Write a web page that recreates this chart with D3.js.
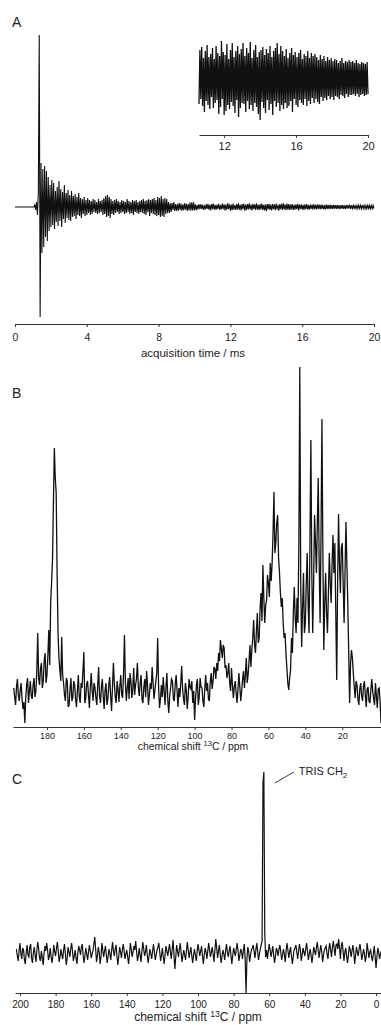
<!DOCTYPE html>
<html>
<head>
<meta charset="utf-8">
<script src="https://cdn.jsdelivr.net/npm/d3@7"></script>
<style>
  body { margin: 0; background: #fff; }
  svg { display: block; font-family: "Liberation Sans", Arial, sans-serif; }
</style>
</head>
<body>
<svg id="fig" width="381" height="1025"></svg>
<script>
// ---- data ----
// FID, sampled every 0.05 ms from 0 ms (signal in arbitrary units)
const fidStep = 0.05;
const fidValues = [
  0,0,0,0,0,0,0,0,0,0,0,0,0,0,0,0,0,0,0,0,0,0,
  2,-3,5,-8,14,172,-110,44,-46,38,-40,41,-30,36,-34,30,-24,22,-20,
  27,-18,24,-22,16,-15,20,-19,26,-14,18,-20,15,-12,22,-16,14,-11,17,-13,
  12,-14,16,-10,11,-9,13,-12,10,-8,14,-9,9,-11,8,-7,10,-9,7,-8,
  9,-6,7,-8,6,-7,8,-5,7,-6,5,-7,8,-6,6,-5,7,-8,9,-7,
  11,-10,12,-9,10,-11,8,-7,6,-8,7,-6,8,-5,6,-7,5,-6,7,-5,
  6,-7,5,-6,8,-5,6,-7,5,-6,7,-8,6,-5,7,-6,5,-7,6,-5,
  7,-6,8,-7,6,-8,7,-5,8,-9,7,-6,8,-7,9,-8,7,-9,10,-8,
  9,-10,11,-9,8,-10,9,-7,8,-6,5,-6,4,-5,4,-3,5,-4,3,-4,
  3.0,-3.6,4.2,-2.8,3.3,-3.9,2.6,-3.1,3.8,-2.7,3.1,-4.0,2.9,-3.2,4.4,-3.8,4.6,-3.5,4.8,-3.3,
  2.6,-3.1,1.8,-2.4,3.0,-2.2,2.7,-1.9,2.4,-3.0,1.6,-2.5,2.9,-2.0,3.2,-2.7,2.1,-3.3,2.8,-2.2,
  3.4,-2.6,2.2,-3.0,2.5,-1.8,3.1,-2.9,2.0,-2.4,3.3,-2.1,2.6,-3.5,2.3,-2.8,3.8,-2.0,2.7,-3.6,
  2.4,-3.2,3.5,-2.6,2.0,-3.0,2.9,-2.3,3.6,-2.7,2.2,-3.4,2.8,-2.1,3.3,-3.8,2.5,-2.9,3.0,-2.4,
  3.6,-2.5,2.3,-3.3,3.1,-2.2,2.6,-3.0,3.7,-2.6,2.1,-3.2,2.9,-2.4,3.4,-2.8,2.2,-3.5,2.7,-4.1,
  2.9,-2.3,3.2,-2.9,2.4,-3.4,3.0,-2.1,2.6,-3.1,3.3,-2.5,2.2,-3.6,2.8,-2.2,3.1,-2.8,3.6,-2.4,
  2.5,-3.2,3.3,-2.6,2.8,-3.0,2.3,-2.4,3.0,-2.9,2.1,-2.7,2.6,-2.2,3.1,-3.3,2.4,-2.0,2.7,-2.6,
  2.2,-2.8,2.6,-2.1,2.9,-2.4,2.0,-2.6,2.5,-2.0,2.3,-2.7,2.8,-2.2,2.1,-2.5,2.6,-1.9,2.3,-2.4,
  2.5,-2.0,2.2,-2.3,1.9,-2.5,2.4,-1.8,2.0,-2.2,2.3,-1.9,1.8,-2.1,2.2,-1.7,1.9,-2.0,2.1,-1.8,
  1.8,-2.1,2.0,-1.7,1.9,-1.8,1.6,-2.0,1.8,-1.6,2.1,-1.7,1.6,-1.9,1.8,-1.5,1.7,-1.8,1.9,-1.6,
  1.7,-1.6,1.8,-1.5,1.6,-1.7,1.9,-1.5,1.6,-1.8,1.5,-1.6,1.7,-1.5,1.6,-1.7,1.5,-1.6,1.7,-1.5
];
const timeTicks = [0, 4, 8, 12, 16, 20];
const insetStart = 10.6;
const insetTicks = [12, 16, 20];

// spectrum B, 0.5 ppm steps from 198 ppm down to -1 ppm
const shiftStartB = 198;
const shiftStep = 0.5;
const spectrumB = [
  5,-4,-12,6,14,-2,-8,3,10,-6,-16,-9,-30,-5,8,15,-10,2,12,-3,
  -6,8,15,-4,2,22,60,14,8,25,30,5,12,32,40,10,18,38,63,28,
  90,110,133,190,245,215,200,120,60,35,23,12,56,18,10,-2,-8,15,12,-14,
  -12,4,15,-8,-5,12,8,-6,-14,3,18,-4,-10,10,5,22,41,-10,-6,9,
  12,-2,-15,6,20,2,-8,10,6,-5,-12,8,26,-3,-10,6,14,-4,-16,3,
  10,-12,-6,8,16,-3,-18,6,30,10,-4,-10,12,4,-9,7,18,-2,-5,20,
  58,10,-8,5,15,-6,20,12,-5,4,25,-2,8,14,30,6,-3,10,18,-6,
  -10,6,14,-4,22,8,-12,-2,10,4,26,10,-6,3,12,20,55,5,-15,-6,
  8,-4,16,2,-12,6,20,-8,-20,-3,5,14,12,-6,-8,9,18,2,-14,5,
  -4,10,27,4,-6,-12,10,3,-16,-4,14,6,4,12,-10,2,-27,-6,8,14,
  -12,-4,15,6,5,-8,-14,4,18,2,10,-6,-8,12,20,4,12,26,24,14,
  30,22,40,32,53,44,35,48,45,25,28,15,20,30,10,2,25,8,-5,6,
  12,0,-10,4,20,6,-8,2,14,22,5,18,35,10,18,32,48,26,43,55,
  73,48,40,62,80,50,55,85,100,72,128,95,70,88,93,118,110,96,130,112,
  130,160,201,140,150,170,178,135,120,100,86,95,70,55,60,40,25,10,3,15,
  23,55,40,80,106,75,60,95,70,150,326,110,46,85,120,60,70,110,140,90,
  60,150,253,120,60,110,178,150,120,170,215,130,70,160,274,140,43,90,120,80,
  60,100,140,110,90,130,158,120,150,80,13,110,179,130,100,145,150,110,70,120,
  171,130,90,40,-10,30,43,35,20,6,-5,12,8,-6,-12,4,10,-3,-8,7,
  12,-2,-14,4,6,-8,-10,3,14,2,-6,-12,10,-3,-15,4,5,-8,-30
];
const ticksB = [180, 160, 140, 120, 100, 80, 60, 40, 20];

// spectrum C, 0.5 ppm steps from 202 ppm down to -3 ppm
const shiftStartC = 202;
const spectrumC = [
  4,-3,-8,2,10,-1,-6,5,3,-7,-11,1,8,-2,-4,6,9,-5,-10,0,
  6,-2,-9,3,11,4,-5,-8,2,-4,-12,-1,7,2,10,3,-7,-3,5,-4,
  -10,-2,8,1,-3,5,11,2,-9,-4,4,-2,-6,3,9,-1,-12,-5,6,1,
  -4,4,10,2,-8,-3,3,-5,-11,0,7,3,-2,6,9,-3,-10,-2,5,-1,
  -7,1,8,2,-5,-1,2,9,16,4,-9,-3,6,1,-11,-4,10,3,-4,2,
  7,-2,-10,-3,4,-1,-7,3,11,2,-3,4,8,-4,-12,-3,6,1,-5,3,
  9,2,-6,-1,3,-4,-11,-2,10,4,-4,1,7,3,12,2,-8,-3,5,-2,
  -9,2,11,4,-3,1,8,-2,-10,-3,4,-1,-6,2,9,1,-7,-2,3,6,
  10,1,-8,-2,5,-4,-11,-2,7,2,-3,3,9,1,-6,4,13,-2,-16,-4,
  8,2,-4,3,10,1,-9,-3,3,-2,-7,2,11,3,-5,1,6,-3,-10,-2,
  4,-2,-8,1,9,3,-3,2,7,-3,-11,-2,5,1,-6,2,10,3,-4,1,
  6,-1,-9,3,14,5,-5,2,8,-2,-10,-3,3,-1,-7,2,9,1,-4,2,
  7,-2,-11,-3,5,1,-3,4,10,2,-8,-2,4,1,-6,3,9,-6,-40,-5,
  6,1,-9,-2,3,5,8,2,-5,3,10,2,-7,-1,4,8,12,170,181,20,
  -4,3,-6,2,9,3,-4,1,7,-2,-10,-3,5,2,-3,4,8,1,-7,-2,
  4,-1,-9,2,10,3,-5,1,6,-3,-11,-4,3,5,8,1,-6,2,9,3,
  -8,-2,5,1,-3,4,10,2,-7,-1,4,-2,-10,-3,6,2,-2,5,11,3,
  -5,2,8,1,-9,-2,3,5,7,-1,-6,4,10,3,-4,6,12,4,-3,8,
  9,4,14,5,-6,7,11,2,-8,1,5,-3,-10,-2,7,3,-4,2,8,1,
  -11,-3,6,1,-3,4,9,2,-7,-2,4,-1,-9,-3,10,3,-5,1,3,-4,
  -8,-1,7,-3,-15,-4,5,1,-6,-1,2
];
const ticksC = [200, 180, 160, 140, 120, 100, 80, 60, 40, 20, 0];
const trisShift = 63;
const trisLabel = "TRIS CH";

// ---- drawing ----
const svg = d3.select('#fig');
svg.append('rect').attr('width', 381).attr('height', 1025).attr('fill', '#fff');

const ink = '#111';

function axis(g, scale, y, ticks, fontSize, pad) {
  const a = g.append('g')
    .attr('transform', `translate(0,${y})`)
    .call(d3.axisBottom(scale).tickValues(ticks).tickSize(3).tickSizeOuter(0).tickPadding(pad));
  a.select('.domain').attr('stroke', '#333').attr('stroke-width', 1);
  a.selectAll('.tick line').attr('stroke', '#333');
  a.selectAll('.tick text')
    .attr('fill', '#222')
    .style('font-size', fontSize + 'px')
    .style('font-family', '"Liberation Sans", Arial, sans-serif');
  return a;
}

function panelLabel(text, x, y) {
  svg.append('text').attr('x', x).attr('y', y)
    .attr('font-size', 14).attr('fill', '#222').text(text);
}

function shiftLabel(x, y, size) {
  const t = svg.append('text').attr('x', x).attr('y', y)
    .attr('text-anchor', 'middle').attr('font-size', size).attr('fill', '#222');
  t.append('tspan').text('chemical shift ');
  t.append('tspan').attr('font-size', size * 0.72).attr('dy', -size * 0.35).text('13');
  t.append('tspan').attr('dy', size * 0.35).text('C / ppm');
}

// Panel A: FID
const fid = fidValues.map((v, i) => ({ t: i * fidStep, v }));
const xA = d3.scaleLinear().domain([0, 20]).range([15, 374]);
const yA = d3.scaleLinear().domain([-110, 172]).range([317, 35]);

panelLabel('A', 12, 27);
const gA = svg.append('g');
gA.append('path')
  .datum(fid)
  .attr('fill', 'none').attr('stroke', ink).attr('stroke-width', 1.1)
  .attr('d', d3.line().x(d => xA(d.t)).y(d => yA(d.v)));
axis(gA, xA, 324, timeTicks, 10.5, 7);
svg.append('text').attr('x', 193).attr('y', 357)
  .attr('text-anchor', 'middle').attr('font-size', 11.5).attr('fill', '#222')
  .text('acquisition time / ms');

// inset: tail of the FID, magnified
const xI = d3.scaleLinear().domain([insetStart, 20]).range([199, 368]);
const yI = d3.scaleLinear().domain([-4.2, 4.2]).range([121, 37]);
const gI = svg.append('g');
gI.append('path')
  .datum(fid.filter(d => d.t >= insetStart - 1e-9))
  .attr('fill', 'none').attr('stroke', ink).attr('stroke-width', 1.3)
  .attr('d', d3.line().x(d => xI(d.t)).y(d => yI(d.v)));
axis(gI, xI, 135, insetTicks, 11, 4);

// Panel B: 13C spectrum
const specB = spectrumB.map((v, i) => ({ ppm: shiftStartB - i * shiftStep, v }));
const xB = d3.scaleLinear().domain([198.4, -1]).range([13, 381]);
const yB = d3.scaleLinear().domain([-30, 326]).range([723, 367]);

panelLabel('B', 12, 398);
const gB = svg.append('g');
gB.append('path')
  .datum(specB)
  .attr('fill', 'none').attr('stroke', ink).attr('stroke-width', 1.3)
  .attr('d', d3.line().x(d => xB(d.ppm)).y(d => yB(d.v)));
axis(gB, xB, 727, ticksB, 9, 3);
shiftLabel(193, 750, 10.4);

// Panel C: TRIS spectrum
const specC = spectrumC.map((v, i) => ({ ppm: shiftStartC - i * shiftStep, v }));
const xC = d3.scaleLinear().domain([202.8, -2.8]).range([15, 381]);
const yC = d3.scaleLinear().domain([-40, 181]).range([993, 772]);

panelLabel('C', 12, 784);
const gC = svg.append('g');
gC.append('path')
  .datum(specC)
  .attr('fill', 'none').attr('stroke', ink).attr('stroke-width', 1.2)
  .attr('d', d3.line().x(d => xC(d.ppm)).y(d => yC(d.v)));
axis(gC, xC, 993, ticksC, 10, 5);
shiftLabel(198, 1021, 12);

// TRIS annotation
const px = xC(trisShift), py = yC(181);
svg.append('line')
  .attr('x1', px + 11).attr('y1', py + 11)
  .attr('x2', px + 30).attr('y2', py)
  .attr('stroke', '#222').attr('stroke-width', 0.9);
const tl = svg.append('text').attr('x', px + 35).attr('y', py + 3)
  .attr('font-size', 11).attr('fill', '#222');
tl.append('tspan').text(trisLabel);
tl.append('tspan').attr('font-size', 8).attr('dy', 3).text('2');
</script>
</body>
</html>
